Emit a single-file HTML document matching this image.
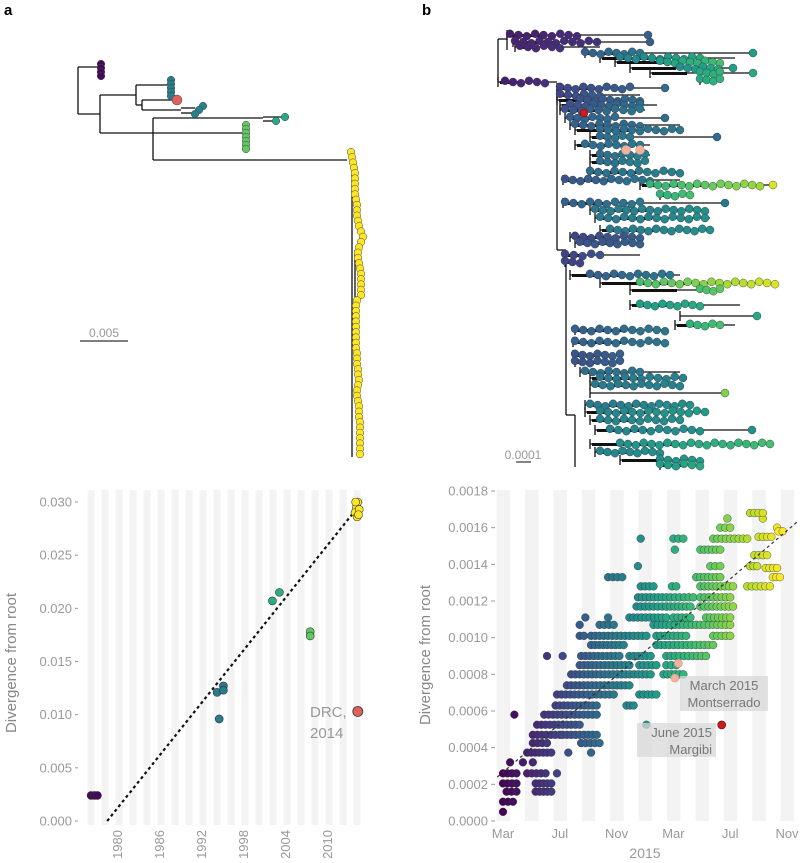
<!DOCTYPE html>
<html><head><meta charset="utf-8"><style>
html,body{margin:0;padding:0;background:#fff;}
svg{display:block;font-family:"Liberation Sans",sans-serif;}
</style></head><body>
<svg id="fig" width="800" height="863" viewBox="0 0 800 863">
<text x="4" y="15" font-size="15" font-weight="bold">a</text>
<text x="422" y="15" font-size="15" font-weight="bold">b</text>
<g id="treeA"></g>
<g id="treeB"></g>
<g id="chartA"></g>
<g id="chartB"></g>
</svg>
<script>
// ---------- data: panel a scatter ----------
const aYears = [1976.3,1976.8,1977.2,1994.3,1995.2,1995.2,1994.6,2002.2,2003.2,2007.6,2007.6,2014.2,2014.0,2014.4,2014.6,2014.3,2014.1,2014.5];
const aDiv   = [0.0024,0.0024,0.0024,0.0121,0.0127,0.0123,0.0096,0.0207,0.0215,0.0178,0.0174,0.0295,0.0290,0.0300,0.0293,0.0286,0.0300,0.0288];
const aColorT= [0.02,0.02,0.02,0.42,0.42,0.42,0.42,0.62,0.62,0.75,0.75,1,1,1,1,1,1,1];
const aYTicks = [0,0.005,0.010,0.015,0.020,0.025,0.030];
const aYTickLabels = ["0.000","0.005","0.010","0.015","0.020","0.025","0.030"];
const aXTicks = [1980,1986,1992,1998,2004,2010];
const aFit = [[1978.6,0],[2015.0,0.0300]];
const aDRC = [2014.4,0.0103];

// ---------- data: panel b scatter (runs: divergence, month start, month end; months from Mar 2014) ----------
const bRunDiv = [0.00005,0.000105,0.00016,0.00016,0.000205,0.000205,0.00026,0.00026,0.00026,0.00032,0.00032,0.00032,0.000373,0.000373,0.000373,0.000425,0.000425,0.00047,0.00047,0.000525,0.000525,0.00058,0.00058,0.00063,0.00063,0.00069,0.00069,0.00074,0.0008,0.0008,0.00085,0.00085,0.00085,0.0009,0.0009,0.0009,0.0009,0.0009,0.00096,0.00096,0.00101,0.00101,0.00101,0.00101,0.00107,0.00107,0.00107,0.00107,0.00111,0.00111,0.00111,0.00111,0.00111,0.00117,0.00117,0.00117,0.00122,0.00122,0.00122,0.00128,0.00128,0.00128,0.00128,0.00133,0.00133,0.00139,0.00139,0.00139,0.00148,0.00148,0.00154,0.00154,0.00154,0.0016,0.0016,0.00165,0.00165,0.00168,0.00145,0.00138,0.00133,0.00155,0.00158];
const bRunM0  = [0,0,0.25,2.3,0,2.3,0,1.7,3.8,0.5,1.4,2.1,1.7,4.6,6.2,2.1,5.5,2.1,4.2,2.4,10.1,2.9,0.8,3.7,8.7,3.8,9.6,4.5,4.8,11.3,5.4,9.6,11.5,3.1,4.2,5.5,8.9,11.5,6.2,10.8,5.4,6.2,10.8,14.8,5.4,6.8,10.6,15.1,5.8,7.4,8.9,12.0,14.3,9.4,11.5,13.9,9.5,11.8,13.9,9.7,11.9,13.9,17.2,7.4,13.6,9.5,14.6,17.4,12.1,13.9,9.7,12.0,14.8,15.3,19.3,15.8,18.3,17.4,17.7,18.5,19.0,18.0,19.4];
const bRunM1  = [0,0.7,0.95,3.4,0.95,3.4,0.95,3.0,3.8,0.5,1.4,2.1,3.4,4.6,6.2,3.1,6.8,4.0,6.6,5.4,10.1,6.6,0.8,6.6,9.2,7.8,10.8,8.9,10.4,12.7,8.9,10.8,12.2,3.1,4.2,8.2,10.4,14.3,8.5,14.8,5.7,10.1,12.9,16.0,5.4,7.8,14.8,16.0,5.8,7.4,11.5,13.2,16.0,11.5,13.2,16.2,11.5,13.4,16.0,10.6,12.2,16.2,18.8,8.4,15.3,9.5,15.3,17.9,12.1,15.3,9.7,12.7,17.2,16.0,19.3,15.8,18.3,18.3,18.6,19.3,19.5,18.9,19.7];
const bYTicks = [0,0.0002,0.0004,0.0006,0.0008,0.0010,0.0012,0.0014,0.0016,0.0018];
const bYTickLabels = ["0.0000","0.0002","0.0004","0.0006","0.0008","0.0010","0.0012","0.0014","0.0016","0.0018"];
const bXTicks = [0,4,8,12,16,20];
const bXTickLabels = ["Mar","Jul","Nov","Mar","Jul","Nov"];
const bFit = [[-0.4,0.00024],[20.7,0.00163]];
const bPink = [[12.35,0.00086],[12.1,0.00078]];
const bRed = [15.4,0.000524];

// ---------- helpers ----------
const NS="http://www.w3.org/2000/svg";
function mk(parent,tag,attrs){const e=document.createElementNS(NS,tag);for(const k in attrs)e.setAttribute(k,attrs[k]);parent.appendChild(e);return e;}
const VIR=[[68,1,84],[72,40,120],[62,74,137],[49,104,142],[38,130,142],[31,158,137],[53,183,121],[110,206,88],[181,222,43],[253,231,37]];
function viridis(t){t=Math.max(0,Math.min(1,t))*(VIR.length-1);const i=Math.min(VIR.length-2,Math.floor(t)),f=t-i;const c=VIR[i].map((v,k)=>Math.round(v+(VIR[i+1][k]-v)*f));return `rgb(${c[0]},${c[1]},${c[2]})`;}

// ---------- chart a ----------
(function(){
const g=document.getElementById('chartA');
const xS=y=>117+(y-1980)*7, yS=d=>821-d*(319/0.03);
for(let yr=1975.8;yr<2015;yr+=2){const r=mk(g,'rect',{x:xS(yr),y:490,width:7,height:335,fill:'#f3f3f3'});
}
aYTicks.forEach((v,i)=>{const t=mk(g,'text',{x:72,y:yS(v)+4.5,'font-size':13,fill:'#999','text-anchor':'end'});t.textContent=aYTickLabels[i];

mk(g,'line',{x1:75,x2:78,y1:yS(v),y2:yS(v),stroke:'#999'});});
aXTicks.forEach(v=>{const t=mk(g,'text',{x:0,y:0,'font-size':13,fill:'#999','text-anchor':'end',transform:`translate(${xS(v)+5},${830}) rotate(-90)`});t.textContent=v;
});
const yt=mk(g,'text',{x:0,y:0,'font-size':15,fill:'#888','text-anchor':'middle',transform:'translate(16,663) rotate(-90)'});yt.textContent='Divergence from root';

const fl=mk(g,'line',{x1:xS(aFit[0][0]),y1:yS(aFit[0][1]),x2:xS(aFit[1][0]),y2:yS(aFit[1][1]),stroke:'#111','stroke-width':2.2,'stroke-dasharray':'3,3'});

aYears.forEach((yr,i)=>{const c=mk(g,'circle',{cx:xS(yr),cy:yS(aDiv[i]),r:4,fill:viridis(aColorT[i]),stroke:'#333','stroke-width':0.6});
});
const red=mk(g,'circle',{cx:xS(aDRC[0]),cy:yS(aDRC[1]),r:5,fill:'#e0605a',stroke:'#333','stroke-width':0.8});

const l=mk(g,'text',{x:310,y:717,'font-size':15,fill:'#999'});l.innerHTML='<tspan x="310">DRC,</tspan><tspan x="310" dy="21">2014</tspan>';

})();

// ---------- chart b ----------
(function(){
const g=document.getElementById('chartB');
const xS=m=>503+m*14.2, yS=d=>821-d*(330/0.0018);
for(let m=-0.45;m<21;m+=2){const r=mk(g,'rect',{x:xS(m),y:490,width:13.5,height:331,fill:'#f3f3f3'});
}
bYTicks.forEach((v,i)=>{const t=mk(g,'text',{x:488,y:yS(v)+4.5,'font-size':13,fill:'#999','text-anchor':'end'});t.textContent=bYTickLabels[i];

mk(g,'line',{x1:491,x2:495,y1:yS(v),y2:yS(v),stroke:'#999'});});
bXTicks.forEach((v,i)=>{const t=mk(g,'text',{x:xS(v),y:838,'font-size':13,fill:'#999','text-anchor':'middle'});t.textContent=bXTickLabels[i];
});
const xt=mk(g,'text',{x:645,y:858,'font-size':14,fill:'#999','text-anchor':'middle'});xt.textContent='2015';

const yt=mk(g,'text',{x:0,y:0,'font-size':15,fill:'#888','text-anchor':'middle',transform:'translate(430,655) rotate(-90)'});yt.textContent='Divergence from root';

bRunDiv.forEach((d,i)=>{const m0=bRunM0[i],m1=bRunM1[i];const n=Math.max(1,Math.round((m1-m0)/0.3)+1);
for(let k=0;k<n;k++){const m=n===1?m0:m0+(m1-m0)*k/(n-1);
const c=mk(g,'circle',{cx:xS(m),cy:yS(d),r:3.9,fill:viridis(m/19.5),stroke:'#333','stroke-width':0.4});
}});
const fl=mk(g,'line',{x1:xS(bFit[0][0]),y1:yS(bFit[0][1]),x2:xS(bFit[1][0]),y2:yS(bFit[1][1]),stroke:'#333','stroke-width':1.2,'stroke-dasharray':'3,3'});

bPink.forEach(p=>{const c=mk(g,'circle',{cx:xS(p[0]),cy:yS(p[1]),r:4,fill:'#f4b09a',stroke:'#c98','stroke-width':0.6});
});
const r=mk(g,'circle',{cx:xS(bRed[0]),cy:yS(bRed[1]),r:4,fill:'#c81e1e',stroke:'#600','stroke-width':0.6});

const b1=mk(g,'rect',{x:680,y:676,width:88,height:35,fill:'#d8d8d8',opacity:0.75});

const t1=mk(g,'text',{x:724,y:690,'font-size':13,fill:'#777','text-anchor':'middle'});t1.innerHTML='<tspan x="724">March 2015</tspan><tspan x="724" dy="17">Montserrado</tspan>';

const b2=mk(g,'rect',{x:637,y:723,width:79,height:34,fill:'#d8d8d8',opacity:0.75});

const t2=mk(g,'text',{x:712,y:737,'font-size':13,fill:'#777','text-anchor':'end'});t2.innerHTML='<tspan x="712">June 2015</tspan><tspan x="712" dy="17">Margibi</tspan>';

})();

// ---------- tree a ----------
(function(){
const g=document.getElementById('treeA');
const segs=[[78,67,78,114],[78,67,100,67],[78,114,100,114],[100,95,100,133],[100,95,136,95],[136,85,136,105],[136,85,171,85],[136,105,142,105],[142,100,142,110],[142,100,177,100],[142,110,181,110],[181,108,195,108],[181,113,195,113],[100,133,153,133],[153,118,153,160],[153,118,263,118],[263,117,284,117],[263,121,276,121],[153,133,243,133],[153,160,347,160],[352,152,352,457],[355,250,355,335]];
segs.forEach(s=>{const l=mk(g,'line',{x1:s[0],y1:s[1],x2:s[2],y2:s[3],stroke:'#111','stroke-width':1.3});});
const dots=[];
[64,68,72,76].forEach(y=>dots.push([101,y,0.02]));
[80,84,88,92,96].forEach(y=>dots.push([171,y,0.42]));
dots.push([177,100,-1]);
[[203,106],[199,110],[195,114]].forEach(p=>dots.push([p[0],p[1],0.45]));
dots.push([285,117,0.6]);dots.push([276,121,0.6]);
for(let y=125;y<=150;y+=4)dots.push([246,y,0.75]);
const yx=[351,352,353,354,355,355,355,355,355,356,357,357,357,358,359,361,363,361,359,358,358,359,360,361,361,361,361,361,357,356,356,356,356,356,356,356,356,356,357,357,357,358,358,359,358,357,357,358,359,359,359,360,360,360,360,360,360,360];
yx.forEach((x,i)=>dots.push([x,152+i*5.3,1]));
dots.forEach(d=>{const c=mk(g,'circle',{cx:d[0],cy:d[1],r:d[2]<0?5:3.8,fill:d[2]<0?'#e0605a':viridis(d[2]),stroke:'#444','stroke-width':0.5});
});
mk(g,'line',{x1:80,y1:341,x2:128,y2:341,stroke:'#333','stroke-width':1.2});
const t=mk(g,'text',{x:104,y:337,'font-size':12,fill:'#999','text-anchor':'middle'});t.textContent='0.005';

})();

// ---------- tree b ----------
(function(){
const g=document.getElementById('treeB');
const rows=[[35,507,648,510,577,.08,.12,648,.3],[42,513,650,515,597,.1,.14,650,.3],[47,515,600,520,560,.1,.14,0,0],[53,585,753,585,640,.3,.4,753,.55],[58,600,735,620,700,.45,.6,0,0],[62,615,720,660,720,.55,.7,0,0],[68,630,733,680,718,.5,.6,733,.55],[73,650,753,700,720,.6,.65,753,.6],[80,700,720,700,720,.6,.65,0,0],
[82,498,557,505,545,.08,.14,0,0],[88,557,665,560,630,.2,.3,665,.35],[95,557,640,560,600,.2,.3,0,0],[100,557,640,580,640,.25,.35,0,0],[105,560,657,570,640,.25,.35,0,0],[110,560,645,565,640,.25,.4,0,0],[118,565,665,570,615,.3,.35,665,.35],[125,570,680,575,640,.3,.35,0,0],[130,575,680,600,680,.35,.4,0,0],[137,590,717,600,630,.35,.4,717,.35],[145,575,650,585,640,.35,.4,0,0],[155,590,650,600,645,.35,.45,0,0],[162,590,645,600,645,.35,.45,0,0],[172,590,680,590,680,.35,.45,0,0],[180,563,680,565,650,.25,.4,0,0],[185,640,775,650,760,.65,.85,773,.95],[195,660,690,660,690,.65,.7,0,0],[203,563,725,565,640,.3,.4,725,.4],[210,590,705,595,705,.4,.5,0,0],[218,595,710,600,705,.4,.5,0,0],[230,600,710,610,710,.4,.5,0,0],[237,570,640,575,640,.2,.3,0,0],[243,575,640,580,640,.25,.3,0,0],[255,565,640,565,600,.2,.25,0,0],[262,565,580,565,580,.2,.2,0,0],[275,570,680,590,670,.3,.4,0,0],[283,600,775,640,775,.7,.95,0,0],[290,630,720,700,720,.7,.75,0,0],[305,630,740,640,700,.55,.6,0,0],[316,680,757,0,0,0,0,757,.6],[325,675,735,690,720,.65,.7,0,0],
[330,575,665,575,665,.3,.4,0,0],[342,573,665,575,665,.3,.4,0,0],[355,573,620,575,620,.25,.3,0,0],[362,575,620,575,620,.25,.3,0,0],[372,580,680,585,640,.35,.4,0,0],[378,590,683,600,683,.4,.45,0,0],[385,590,680,595,680,.4,.45,0,0],[393,590,725,0,0,0,0,725,.8],[405,585,690,590,690,.4,.5,0,0],[412,585,705,600,705,.45,.55,0,0],[420,590,680,600,680,.45,.5,0,0],[430,595,752,610,700,.45,.5,752,.5],[444,590,770,620,770,.5,.7,0,0],[452,595,660,600,660,.45,.5,0,0],[460,620,700,660,700,.5,.55,0,0],[465,660,700,660,700,.55,.6,0,0]];
const bb=[[498,39,498,82],[507,32,507,50],[557,85,557,250],[566,250,566,415],[498,39,507,39],[557,250,566,250],[575,415,575,467],[566,415,575,415]];
bb.forEach(s=>{const l=mk(g,'line',{x1:s[0],y1:s[1],x2:s[2],y2:s[3],stroke:'#111','stroke-width':1.3});});
rows.forEach(r=>{const l=mk(g,'line',{x1:r[1],y1:r[0],x2:r[2],y2:r[0],stroke:'#111','stroke-width':1.3});

mk(g,'line',{x1:r[1],y1:r[0]-5,x2:r[1],y2:r[0]+5,stroke:'#111','stroke-width':1.3});
mk(g,'rect',{x:r[1]+2,y:r[0]-1,width:Math.max(0,(r[4]||r[1])-r[1])*0.5,height:3,fill:'#111'});});
rows.forEach(r=>{if(r[4]>r[3]||r[3]>0){const n=Math.max(1,Math.round((r[4]-r[3])/8)+1);
for(let k=0;k<n;k++){const x=n===1?r[3]:r[3]+(r[4]-r[3])*k/(n-1);const t=n===1?r[5]:r[5]+(r[6]-r[5])*k/(n-1);
const c=mk(g,'circle',{cx:x,cy:r[0]+((k%3)-1)*1.2,r:4,fill:viridis(t),stroke:'#333','stroke-width':0.4});
}}
if(r[7]){const c=mk(g,'circle',{cx:r[7],cy:r[0],r:4,fill:viridis(r[8]),stroke:'#333','stroke-width':0.4});
}});
const red=mk(g,'circle',{cx:584,cy:113,r:4,fill:'#c81e1e',stroke:'#600','stroke-width':0.5});

[[626,150],[640,150]].forEach(p=>{const c=mk(g,'circle',{cx:p[0],cy:p[1],r:4.5,fill:'#f4b09a',stroke:'#c98','stroke-width':0.5});
});
mk(g,'line',{x1:516,y1:462,x2:531,y2:462,stroke:'#333','stroke-width':1.2});
const t=mk(g,'text',{x:523,y:459,'font-size':12,fill:'#999','text-anchor':'middle'});t.textContent='0.0001';

})();
</script>
</body></html>
